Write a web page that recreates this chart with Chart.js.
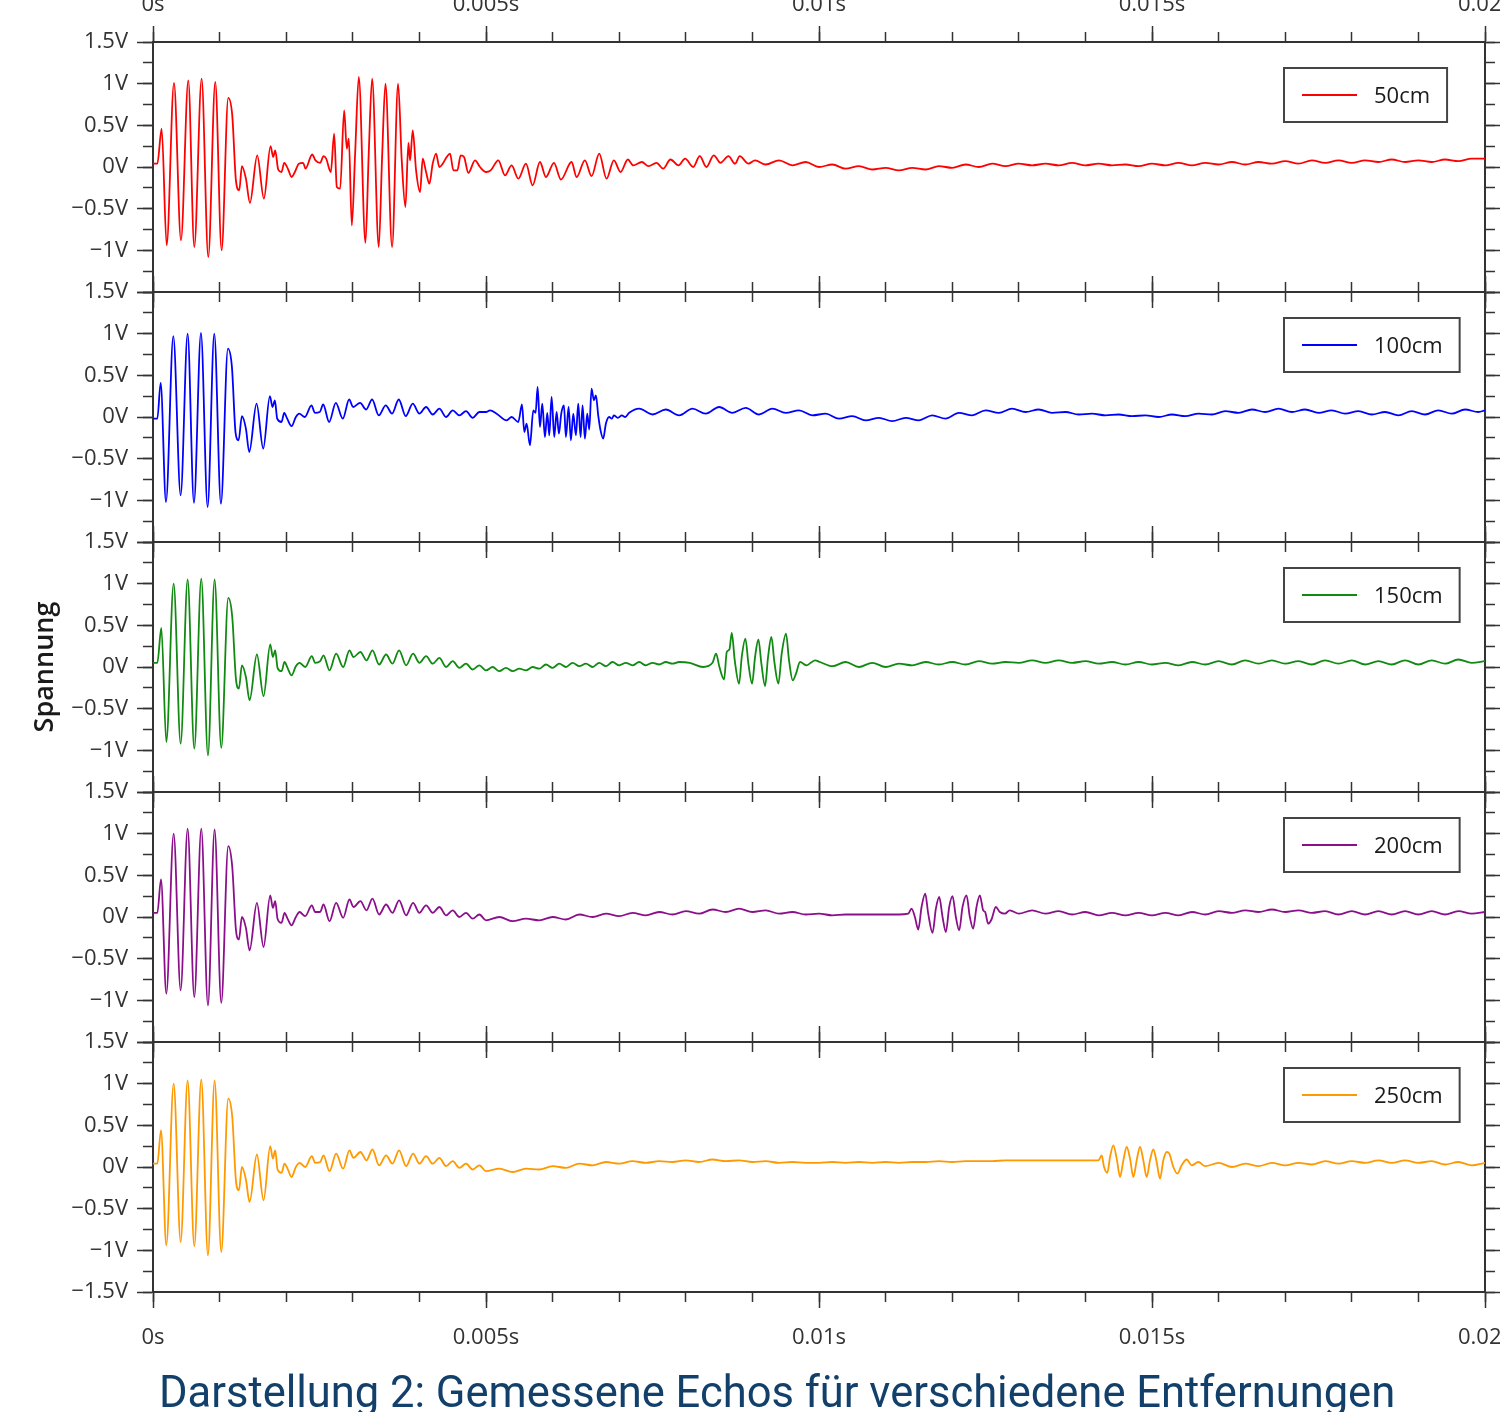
<!DOCTYPE html>
<html>
<head>
<meta charset="utf-8">
<script src="https://cdn.jsdelivr.net/npm/chart.js@4"></script>
<style>
  body { margin: 0; background: #fff; width: 1500px; height: 1412px; overflow: hidden; position: relative; }
  canvas { position: absolute; left: 0; top: 0; }
  #caption { position: absolute; left: 159px; top: 1367px; font: 43.5px Roboto, sans-serif; color: #12406b; white-space: nowrap; }
</style>
</head>
<body>
<canvas id="p0" width="1500" height="1412"></canvas>
<canvas id="p1" width="1500" height="1412"></canvas>
<canvas id="p2" width="1500" height="1412"></canvas>
<canvas id="p3" width="1500" height="1412"></canvas>
<canvas id="p4" width="1500" height="1412"></canvas>
<div id="caption">Darstellung 2: Gemessene Echos für verschiedene Entfernungen</div>
<script>
// time in ms, voltage in V
var labels = ['50cm', '100cm', '150cm', '200cm', '250cm'];
var colors = ['#ff0000', '#0000ff', '#108a10', '#8b0f8b', '#ff9900'];

var echo50 = [[0,0.04],[0.065,0.04],[0.13,0.46],[0.205,-0.94],[0.315,1.01],[0.42,-0.88],[0.53,1.04],[0.62,-0.96],[0.73,1.06],[0.83,-1.08],[0.935,1.02],[1.03,-1.0],[1.13,0.83],[1.19,0.62],[1.245,-0.16],[1.295,-0.28],[1.335,0.01],[1.395,-0.14],[1.455,-0.43],[1.565,0.14],[1.665,-0.38],[1.765,0.25],[1.805,0.12],[1.835,0.2],[1.88,-0.03],[1.93,-0.06],[1.97,0.05],[2.03,-0.03],[2.08,-0.12],[2.13,-0.06],[2.19,0.04],[2.255,0.05],[2.29,-0.02],[2.39,0.15],[2.44,0.08],[2.51,0.05],[2.56,0.13],[2.6,0.1],[2.67,-0.06],[2.72,0.4],[2.76,-0.24],[2.81,-0.26],[2.87,0.68],[2.91,0.22],[2.94,0.34],[2.985,-0.7],[3.035,0.16],[3.09,1.08],[3.19,-0.91],[3.24,0.18],[3.29,1.06],[3.39,-0.96],[3.44,0.12],[3.49,1.0],[3.59,-0.96],[3.68,1.0],[3.735,0.08],[3.79,-0.48],[3.835,0.29],[3.86,0.08],[3.9,0.44],[3.95,-0.04],[4.01,-0.3],[4.05,0.1],[4.1,-0.06],[4.15,-0.2],[4.2,0.04],[4.25,0.16],[4.3,0.0],[4.35,0.04],[4.41,0.12],[4.46,0.16],[4.51,-0.04],[4.57,-0.04],[4.62,0.14],[4.67,0.12],[4.735,-0.07],[4.835,0.08],[4.91,0.0],[5.0,-0.06],[5.07,-0.04],[5.185,0.08],[5.285,-0.1],[5.385,0.02],[5.485,-0.14],[5.6,0.04],[5.7,-0.22],[5.81,0.06],[5.9,-0.12],[6.02,0.05],[6.125,-0.15],[6.285,0.06],[6.36,-0.12],[6.485,0.08],[6.585,-0.11],[6.7,0.16],[6.81,-0.14],[6.92,0.08],[7.02,-0.06],[7.13,0.09],[7.21,0.02],[7.34,0.06],[7.44,0.01],[7.56,0.05],[7.66,-0.02],[7.77,0.09],[7.89,0.02],[7.99,0.1],[8.11,0.0],[8.21,0.13],[8.31,0.0],[8.42,0.14],[8.52,0.05],[8.64,0.13],[8.74,0.04],[8.81,0.13],[8.94,0.04],[9.04,0.08],
  [9.2,0.03],[9.4,0.08],[9.6,0.02],[9.8,0.06],[10.0,0.0],[10.2,0.03],[10.4,-0.02],[10.6,0.01],[10.8,-0.03],[11.0,-0.01],[11.2,-0.04],[11.4,-0.01],[11.6,-0.03],[11.8,0.01],[12.0,-0.01],[12.2,0.03],[12.4,0.0],[12.6,0.04],[12.8,0.01],[13.0,0.04],[13.2,0.02],[13.4,0.04],[13.6,0.02],[13.8,0.05],[14.0,0.02],[14.2,0.04],[14.4,0.02],[14.6,0.03],[14.8,0.01],[15.0,0.04],[15.2,0.02],[15.4,0.05],[15.6,0.02],[15.8,0.05],[16.0,0.03],[16.2,0.06],[16.4,0.03],[16.6,0.06],[16.8,0.04],[17.0,0.07],[17.2,0.04],[17.4,0.08],[17.6,0.05],[17.8,0.08],[18.0,0.05],[18.2,0.08],[18.4,0.06],[18.6,0.09],[18.8,0.06],[19.0,0.08],[19.2,0.06],[19.4,0.09],[19.6,0.07],[19.8,0.1],[20.0,0.1]];

var echo100 = [[0,-0.02],[0.065,-0.02],[0.115,0.41],[0.195,-1.02],[0.305,0.97],[0.415,-0.94],[0.52,1.0],[0.615,-1.03],[0.72,1.01],[0.82,-1.08],[0.92,1.0],[1.02,-1.04],[1.125,0.82],[1.185,0.6],[1.24,-0.19],[1.285,-0.28],[1.335,0.01],[1.395,-0.14],[1.445,-0.42],[1.555,0.16],[1.655,-0.38],[1.755,0.25],[1.795,0.12],[1.83,0.2],[1.865,-0.02],[1.93,-0.06],[1.97,0.05],[2.015,-0.02],[2.08,-0.11],[2.145,0.0],[2.195,0.04],[2.28,0.0],[2.38,0.14],[2.43,0.05],[2.505,0.06],[2.555,0.15],[2.645,-0.06],[2.745,0.17],[2.85,-0.02],[2.945,0.21],[3.005,0.12],[3.11,0.17],[3.2,0.09],[3.29,0.21],[3.39,0.02],[3.495,0.14],[3.59,0.04],[3.69,0.21],[3.795,0.01],[3.9,0.16],[4.0,0.04],
  [4.1,0.12],[4.2,0.03],[4.3,0.1],[4.4,0.0],[4.5,0.08],[4.6,0.02],[4.7,0.07],[4.8,-0.01],[4.9,0.06],[5.0,0.06],[5.06,0.08],[5.16,0.04],[5.31,-0.04],[5.385,0.0],[5.485,-0.06],[5.54,0.15],[5.575,-0.18],[5.61,-0.08],[5.66,-0.34],[5.71,0.08],[5.745,0.05],[5.775,0.36],[5.81,-0.12],[5.845,0.16],[5.885,-0.24],[5.92,0.05],[5.95,-0.22],[5.985,0.24],[6.025,-0.24],[6.06,0.06],[6.095,-0.2],[6.13,0.04],[6.17,0.14],[6.2,-0.24],[6.24,0.12],[6.275,-0.28],[6.31,0.04],[6.35,-0.22],[6.385,0.16],[6.42,-0.24],[6.45,0.14],[6.485,-0.26],[6.52,0.04],[6.55,-0.15],[6.585,0.34],[6.62,0.2],[6.65,0.26],[6.685,0.02],[6.72,-0.16],[6.76,-0.26],[6.8,-0.08],[6.85,0.0],[6.89,-0.02],[6.92,0.02],[6.98,-0.01],[7.04,0.02],[7.09,0.0],[7.15,0.05],
  [7.3,0.1],[7.5,0.03],[7.7,0.09],[7.9,0.02],[8.1,0.1],[8.3,0.04],[8.5,0.12],[8.7,0.05],[8.9,0.11],[9.1,0.03],[9.3,0.1],[9.5,0.05],[9.7,0.08],[9.9,0.02],[10.1,0.04],[10.3,-0.02],[10.5,0.01],[10.7,-0.04],[10.9,-0.01],[11.1,-0.05],[11.3,-0.01],[11.5,-0.04],[11.7,0.02],[11.9,-0.02],[12.1,0.05],[12.3,0.02],[12.5,0.08],[12.7,0.05],[12.9,0.1],[13.1,0.06],[13.3,0.09],[13.5,0.05],[13.7,0.06],[13.9,0.03],[14.1,0.04],[14.3,0.02],[14.5,0.03],[14.7,0.01],[14.9,0.02],[15.1,0.0],[15.3,0.03],[15.5,0.01],[15.7,0.04],[15.9,0.03],[16.1,0.07],[16.3,0.05],[16.5,0.09],[16.7,0.06],[16.9,0.1],[17.1,0.06],[17.3,0.09],[17.5,0.05],[17.7,0.08],[17.9,0.04],[18.1,0.07],[18.3,0.03],[18.5,0.06],[18.7,0.02],[18.9,0.07],[19.1,0.03],[19.3,0.08],[19.5,0.04],[19.7,0.09],[19.9,0.06],[20.0,0.08]];

var echo150 = [[0,0.05],[0.065,0.05],[0.125,0.47],[0.2,-0.9],[0.31,1.0],[0.415,-0.92],[0.52,1.05],[0.62,-0.98],[0.725,1.06],[0.825,-1.06],[0.925,1.05],[1.025,-0.97],[1.13,0.83],[1.19,0.6],[1.245,-0.14],[1.29,-0.26],[1.335,0.02],[1.395,-0.12],[1.45,-0.4],[1.56,0.15],[1.66,-0.35],[1.76,0.27],[1.8,0.12],[1.835,0.2],[1.87,-0.01],[1.93,-0.05],[1.975,0.06],[2.02,-0.01],[2.08,-0.1],[2.145,0.01],[2.2,0.05],[2.285,0.0],[2.385,0.13],[2.435,0.05],[2.51,0.07],[2.56,0.14],[2.65,-0.04],[2.75,0.16],[2.855,0.0],[2.95,0.2],[3.01,0.12],[3.115,0.18],[3.205,0.08],[3.295,0.2],[3.395,0.03],[3.5,0.15],[3.595,0.04],[3.695,0.2],[3.8,0.02],[3.905,0.16],[4.0,0.05],
  [4.1,0.13],[4.2,0.04],[4.3,0.11],[4.4,0.0],[4.5,0.07],[4.6,-0.01],[4.7,0.04],[4.8,-0.03],[4.9,0.02],[5.0,-0.04],[5.1,0.0],[5.2,-0.05],[5.3,-0.01],[5.4,-0.05],[5.5,-0.02],[5.6,-0.04],[5.7,0.0],[5.8,-0.02],[5.9,0.03],[6.0,-0.01],[6.1,0.04],[6.2,0.0],[6.3,0.05],[6.4,0.01],[6.5,0.04],[6.6,0.0],[6.7,0.05],[6.8,0.01],[6.9,0.06],[7.0,0.02],[7.1,0.05],[7.2,0.02],[7.3,0.06],[7.4,0.02],[7.5,0.05],[7.6,0.03],[7.7,0.06],[7.8,0.04],[7.9,0.06],
  [8.06,0.05],[8.26,0.0],[8.4,0.05],[8.455,0.16],[8.505,0.0],[8.575,-0.15],[8.615,0.18],[8.655,0.21],[8.69,0.41],[8.735,0.08],[8.8,-0.2],[8.84,0.12],[8.895,0.34],[8.94,0.04],[8.995,-0.2],[9.04,0.12],[9.09,0.33],[9.135,0.04],[9.19,-0.23],[9.235,0.12],[9.285,0.36],[9.33,0.06],[9.39,-0.2],[9.44,0.16],[9.505,0.4],[9.55,0.08],[9.605,-0.16],[9.655,-0.08],[9.715,0.06],[9.815,0.02],[9.875,0.05],[9.94,0.08],[10.015,0.06],
  [10.2,0.01],[10.4,0.06],[10.6,0.0],[10.8,0.05],[11.0,0.0],[11.2,0.04],[11.4,0.02],[11.6,0.06],[11.8,0.03],[12.0,0.06],[12.2,0.03],[12.4,0.07],[12.6,0.04],[12.8,0.06],[13.0,0.05],[13.2,0.08],[13.4,0.05],[13.6,0.08],[13.8,0.05],[14.0,0.07],[14.2,0.04],[14.4,0.06],[14.6,0.03],[14.8,0.06],[15.0,0.03],[15.2,0.05],[15.4,0.02],[15.6,0.06],[15.8,0.03],[16.0,0.07],[16.2,0.03],[16.4,0.08],[16.6,0.04],[16.8,0.08],[17.0,0.04],[17.2,0.07],[17.4,0.03],[17.6,0.08],[17.8,0.04],[18.0,0.08],[18.2,0.03],[18.4,0.07],[18.6,0.03],[18.8,0.08],[19.0,0.03],[19.2,0.08],[19.4,0.04],[19.6,0.09],[19.8,0.05],[20.0,0.07]];

var echo200 = [[0,0.05],[0.065,0.05],[0.12,0.45],[0.2,-0.92],[0.31,1.0],[0.415,-0.88],[0.52,1.06],[0.62,-0.96],[0.725,1.06],[0.825,-1.06],[0.925,1.05],[1.025,-1.03],[1.13,0.85],[1.19,0.6],[1.245,-0.15],[1.29,-0.27],[1.335,0.0],[1.395,-0.13],[1.45,-0.4],[1.56,0.17],[1.66,-0.36],[1.76,0.26],[1.8,0.11],[1.835,0.19],[1.87,-0.02],[1.93,-0.07],[1.975,0.05],[2.02,-0.02],[2.08,-0.1],[2.145,0.0],[2.2,0.06],[2.285,0.01],[2.385,0.14],[2.435,0.06],[2.51,0.06],[2.56,0.15],[2.65,-0.05],[2.75,0.17],[2.855,-0.01],[2.95,0.21],[3.01,0.12],[3.115,0.19],[3.205,0.08],[3.295,0.22],[3.395,0.03],[3.5,0.15],[3.595,0.05],[3.695,0.2],[3.8,0.02],[3.905,0.17],[4.0,0.05],
  [4.1,0.14],[4.2,0.05],[4.3,0.12],[4.4,0.02],[4.5,0.08],[4.6,0.0],[4.7,0.05],[4.8,-0.02],[4.9,0.03],[5.0,-0.04],[5.2,0.0],[5.4,-0.05],[5.6,-0.02],[5.8,-0.04],[6.0,0.0],[6.2,-0.03],[6.4,0.03],[6.6,0.0],[6.8,0.04],[7.0,0.01],[7.2,0.05],[7.4,0.02],[7.6,0.06],[7.8,0.03],[8.0,0.07],[8.2,0.04],[8.4,0.09],[8.6,0.06],[8.8,0.1],[9.0,0.06],[9.2,0.08],[9.4,0.04],[9.6,0.06],[9.8,0.03],[10.0,0.04],[10.2,0.02],[10.4,0.03],[10.6,0.03],[10.8,0.03],[11.0,0.03],[11.2,0.03],
  [11.34,0.04],[11.39,0.1],[11.44,0.0],[11.49,-0.15],[11.54,0.12],[11.595,0.28],[11.64,0.04],[11.705,-0.19],[11.755,0.1],[11.805,0.24],[11.855,0.0],[11.905,-0.18],[11.955,0.12],[12.005,0.25],[12.055,0.0],[12.105,-0.16],[12.155,0.12],[12.215,0.26],[12.265,0.0],[12.315,-0.14],[12.365,0.12],[12.415,0.26],[12.465,0.08],[12.495,0.06],[12.54,-0.08],[12.59,-0.03],[12.655,0.12],[12.715,0.06],[12.79,0.04],[12.865,0.08],
  [13.0,0.04],[13.2,0.08],[13.4,0.04],[13.6,0.07],[13.8,0.03],[14.0,0.06],[14.2,0.02],[14.4,0.05],[14.6,0.02],[14.8,0.05],[15.0,0.02],[15.2,0.05],[15.4,0.02],[15.6,0.06],[15.8,0.03],[16.0,0.07],[16.2,0.05],[16.4,0.08],[16.6,0.06],[16.8,0.09],[17.0,0.06],[17.2,0.08],[17.4,0.05],[17.6,0.07],[17.8,0.03],[18.0,0.07],[18.2,0.03],[18.4,0.07],[18.6,0.03],[18.8,0.07],[19.0,0.03],[19.2,0.07],[19.4,0.03],[19.6,0.07],[19.8,0.04],[20.0,0.06]];

var echo250 = [[0,0.04],[0.065,0.04],[0.12,0.44],[0.2,-0.94],[0.31,1.0],[0.415,-0.9],[0.52,1.04],[0.62,-0.95],[0.725,1.05],[0.825,-1.06],[0.925,1.04],[1.025,-1.02],[1.13,0.82],[1.19,0.6],[1.245,-0.16],[1.29,-0.28],[1.335,0.0],[1.395,-0.15],[1.45,-0.42],[1.56,0.15],[1.66,-0.4],[1.76,0.25],[1.8,0.1],[1.835,0.2],[1.87,-0.03],[1.93,-0.07],[1.975,0.04],[2.02,-0.02],[2.08,-0.12],[2.145,0.0],[2.2,0.05],[2.285,0.0],[2.385,0.13],[2.435,0.05],[2.51,0.06],[2.56,0.14],[2.65,-0.05],[2.75,0.16],[2.855,-0.02],[2.95,0.2],[3.01,0.11],[3.115,0.18],[3.205,0.08],[3.295,0.21],[3.395,0.02],[3.5,0.14],[3.595,0.04],[3.695,0.2],[3.8,0.01],[3.905,0.16],[4.0,0.04],
  [4.1,0.13],[4.2,0.04],[4.3,0.11],[4.4,0.01],[4.5,0.07],[4.6,-0.01],[4.7,0.04],[4.8,-0.03],[4.9,0.02],[5.0,-0.05],[5.2,-0.02],[5.4,-0.06],[5.6,-0.02],[5.8,-0.03],[6.0,0.01],[6.2,-0.01],[6.4,0.04],[6.6,0.02],[6.8,0.06],[7.0,0.04],[7.2,0.07],[7.4,0.05],[7.6,0.07],[7.8,0.06],[8.0,0.08],[8.2,0.06],[8.4,0.09],[8.6,0.07],[8.8,0.08],[9.0,0.06],[9.2,0.07],[9.4,0.05],[9.6,0.06],[9.8,0.05],[10.0,0.05],[10.2,0.06],[10.4,0.05],[10.6,0.06],[10.8,0.05],[11.0,0.06],[11.2,0.05],[11.4,0.06],[11.6,0.06],[11.8,0.07],[12.0,0.06],[12.2,0.07],[12.4,0.07],[12.6,0.07],[12.8,0.08],[13.0,0.08],[13.2,0.08],[13.4,0.08],[13.6,0.08],[13.8,0.08],
  [14.07,0.08],[14.195,0.08],[14.245,0.14],[14.28,0.0],[14.33,-0.07],[14.37,0.12],[14.42,0.26],[14.47,0.1],[14.52,-0.12],[14.57,0.08],[14.62,0.24],[14.67,0.1],[14.72,-0.12],[14.77,0.08],[14.82,0.24],[14.87,0.08],[14.92,-0.12],[14.97,0.08],[15.02,0.21],[15.07,0.06],[15.12,-0.14],[15.17,0.08],[15.22,0.18],[15.26,0.16],[15.32,0.0],[15.38,-0.08],[15.445,0.02],[15.52,0.09],[15.595,0.02],[15.695,0.06],
  [15.8,0.01],[16.0,0.05],[16.2,0.0],[16.4,0.04],[16.6,0.01],[16.8,0.05],[17.0,0.02],[17.2,0.05],[17.4,0.03],[17.6,0.07],[17.8,0.04],[18.0,0.07],[18.2,0.05],[18.4,0.08],[18.6,0.05],[18.8,0.08],[19.0,0.05],[19.2,0.07],[19.4,0.03],[19.6,0.06],[19.8,0.02],[20.0,0.05]];

var series = [echo50, echo100, echo150, echo200, echo250];

Chart.defaults.font.family = "'Open Sans', sans-serif";
Chart.defaults.color = '#333';

// boxed legend in the upper right of each panel
var boxLegend = {
  id: 'boxLegend',
  afterDraw: function(chart) {
    var ds = chart.data.datasets[0];
    var a = chart.chartArea;
    var ctx = chart.ctx;
    ctx.save();
    ctx.font = "22px 'Open Sans'";
    var tw = ctx.measureText(ds.label).width;
    var x = a.left + 1131, y = a.top + 26, w = 90 + tw + 17, h = 54;
    ctx.fillStyle = '#fff';
    ctx.fillRect(x, y, w, h);
    ctx.strokeStyle = '#444';
    ctx.lineWidth = 2;
    ctx.strokeRect(x, y, w, h);
    ctx.strokeStyle = ds.borderColor;
    ctx.lineWidth = 1.8;
    ctx.beginPath();
    ctx.moveTo(x + 18, y + h / 2);
    ctx.lineTo(x + 73, y + h / 2);
    ctx.stroke();
    ctx.fillStyle = '#1a1a1a';
    ctx.textBaseline = 'middle';
    ctx.fillText(ds.label, x + 90, y + h / 2 + 2);
    ctx.restore();
  }
};

function fixH(h) {
  return function(s) { s.height = h; s.paddingLeft = 0; s.paddingRight = 0; };
}
function fixW(w) {
  return function(s) { s.width = w; s.paddingTop = 0; s.paddingBottom = 0; };
}

function xScale(pos, size, major, showLabels) {
  return {
    type: 'linear', position: pos, min: 0, max: 20, weight: major ? 1 : 0,
    afterFit: fixH(major ? size : 0),
    border: { color: '#333', width: 2 },
    grid: { drawOnChartArea: false, tickLength: major ? 16 : 10, tickColor: '#333', tickWidth: 1.5 },
    ticks: {
      stepSize: major ? 5 : 1, maxTicksLimit: 100, autoSkip: false, maxRotation: 0,
      display: major && showLabels, padding: pos === 'bottom' ? 17 : 8, color: '#333', font: { size: 22 },
      callback: function(v) { return (v / 1000) + 's'; }
    }
  };
}

function yScale(pos, size, major, showLabels, lastPanel, title) {
  return {
    type: 'linear', position: pos, min: -1.5, max: 1.5, weight: major ? 1 : 0,
    afterFit: fixW(major ? size : 0),
    border: { color: '#333', width: 2 },
    grid: { drawOnChartArea: false, tickLength: major ? 16 : 10, tickColor: '#333', tickWidth: 1.5 },
    title: {
      display: !!title, text: title || '', color: '#1a1a1a',
      font: { size: 27, weight: '600' }, padding: { top: 29, bottom: 0 }
    },
    ticks: {
      stepSize: major ? 0.5 : 0.25, maxTicksLimit: 100, autoSkip: false,
      display: major && showLabels, padding: 9, color: '#333', font: { size: 22 },
      callback: function(v) {
        if (v === -1.5 && !lastPanel) return '';
        return (v < 0 ? '\u2212' : '') + Math.abs(v) + 'V';
      }
    }
  };
}

series.forEach(function(pts, i) {
  var last = i === series.length - 1;
  var topH = 42 + 250 * i;
  var botH = 1412 - (292 + 250 * i);
  new Chart(document.getElementById('p' + i), {
    type: 'line',
    data: {
      datasets: [{
        label: labels[i],
        data: pts.map(function(p) { return { x: p[0], y: p[1] }; }),
        borderColor: colors[i],
        borderWidth: 1.8,
        pointRadius: 0,
        cubicInterpolationMode: 'monotone',
        fill: false
      }]
    },
    options: {
      responsive: false,
      animation: false,
      devicePixelRatio: 1,
      events: [],
      layout: { padding: 0, autoPadding: false },
      plugins: { legend: { display: false }, tooltip: { enabled: false } },
      scales: {
        xt: xScale('top', topH, true, i === 0),
        xtm: xScale('top', 0, false, false),
        x: xScale('bottom', botH, true, last),
        xbm: xScale('bottom', 0, false, false),
        y: yScale('left', 153, true, true, last, i === 2 ? 'Spannung' : ''),
        ylm: yScale('left', 0, false, false, last, ''),
        yr: yScale('right', 15, true, false, last, ''),
        yrm: yScale('right', 0, false, false, last, '')
      }
    },
    plugins: [boxLegend]
  });
});
</script>
</body>
</html>
